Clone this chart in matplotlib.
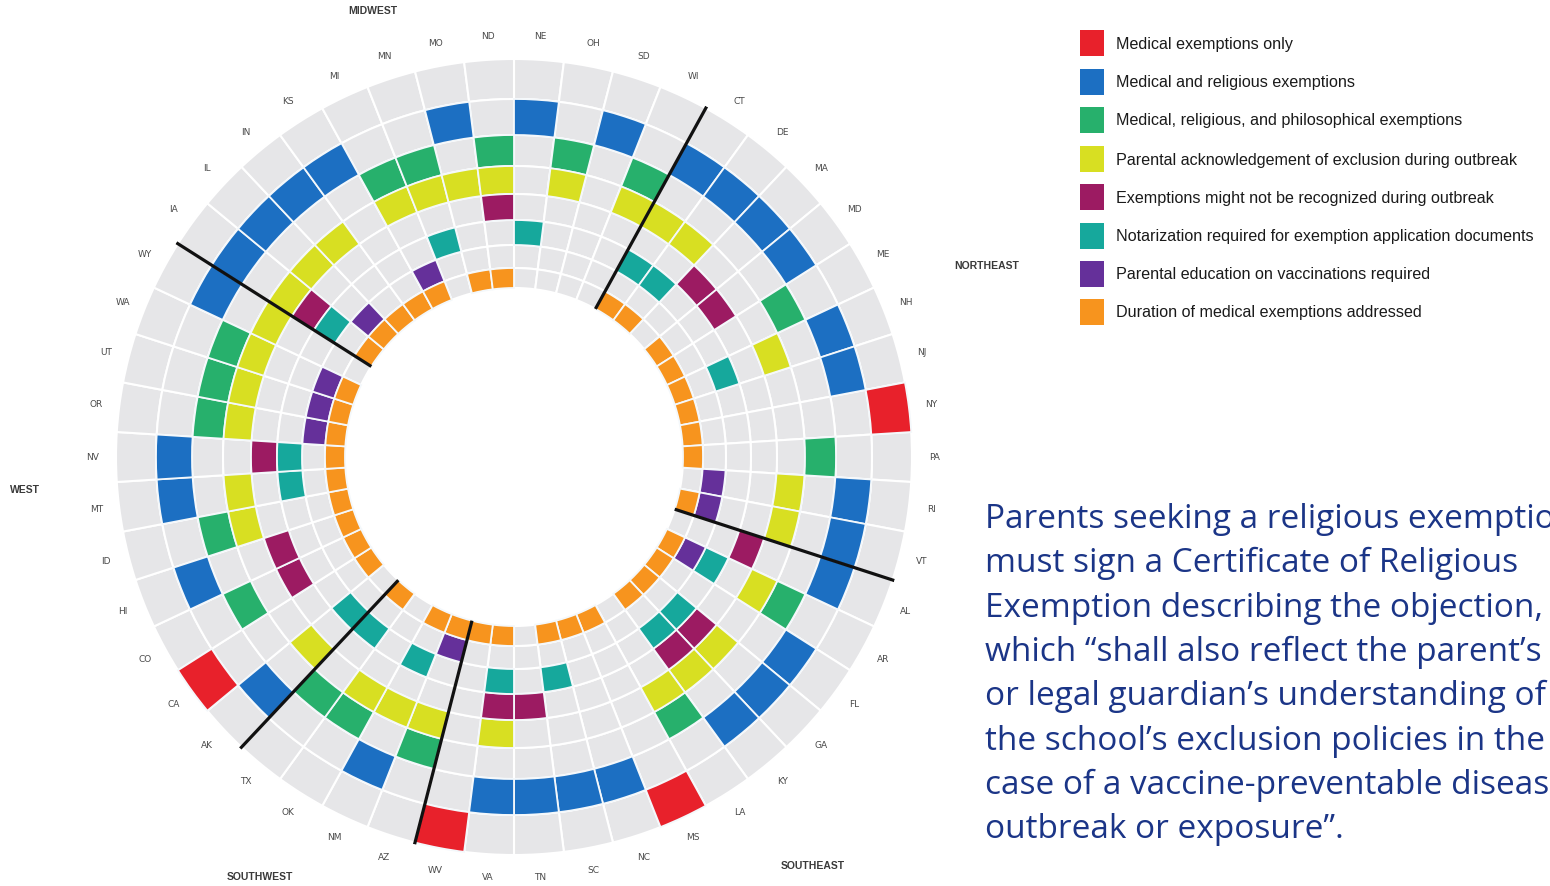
import matplotlib
matplotlib.use("Agg")
import matplotlib.pyplot as plt
import numpy as np
from matplotlib.patches import Rectangle

# ---------------- data ----------------
states = ["NE", "OH", "SD", "WI",
          "CT", "DE", "MA", "MD", "ME", "NH", "NJ", "NY", "PA", "RI", "VT",
          "AL", "AR", "FL", "GA", "KY", "LA", "MS", "NC", "SC", "TN", "VA", "WV",
          "AZ", "NM", "OK", "TX",
          "AK", "CA", "CO", "HI", "ID", "MT", "NV", "OR", "UT", "WA", "WY",
          "IA", "IL", "IN", "KS", "MI", "MN", "MO", "ND"]

region_names = ["NORTHEAST", "SOUTHEAST", "SOUTHWEST", "WEST", "MIDWEST"]
region_first_state = ["CT", "AL", "AZ", "AK", "IA"]

categories = ["Medical exemptions only",
              "Medical and religious exemptions",
              "Medical, religious, and philosophical exemptions",
              "Parental acknowledgement of exclusion during outbreak",
              "Exemptions might not be recognized during outbreak",
              "Notarization required for exemption application documents",
              "Parental education on vaccinations required",
              "Duration of medical exemptions addressed"]

medical_only = ["NY", "MS", "WV", "CA"]
medical_religious = ["NE", "SD", "CT", "DE", "MA", "MD", "NH", "NJ", "RI", "VT",
                     "AL", "FL", "GA", "KY", "NC", "SC", "TN", "VA", "NM", "AK",
                     "HI", "MT", "NV", "WY", "IA", "IL", "IN", "KS", "MO"]
medical_religious_philosophical = ["OH", "WI", "ME", "PA", "AR", "LA", "AZ", "OK", "TX",
                                   "CO", "ID", "OR", "UT", "WA", "MI", "MN", "ND"]
acknowledgement_exclusion = ["OH", "WI", "CT", "DE", "NH", "RI", "VT", "AR", "GA", "KY",
                             "LA", "VA", "AZ", "NM", "OK", "AK", "ID", "MT", "OR", "UT",
                             "WA", "WY", "IA", "IL", "IN", "MI", "MN", "MO", "ND"]
not_recognized_outbreak = ["MA", "MD", "AL", "GA", "KY", "TN", "VA", "CO", "HI", "NV",
                           "IA", "ND"]
notarization_required = ["NE", "CT", "DE", "NH", "AR", "GA", "KY", "SC", "VA", "NM",
                         "TX", "AK", "MT", "NV", "IA", "MN"]
education_required = ["RI", "VT", "AR", "AZ", "OR", "UT", "WA", "IL", "MI"]
duration_addressed = ["CT", "DE", "MD", "ME", "NH", "NJ", "NY", "PA", "VT", "AR", "FL",
                      "GA", "KY", "MS", "NC", "SC", "VA", "WV", "AZ", "NM", "TX", "CA",
                      "CO", "HI", "ID", "MT", "NV", "OR", "UT", "WA", "IA", "IL", "IN",
                      "KS", "MI", "MO", "ND"]

ring_members = [medical_only, medical_religious, medical_religious_philosophical,
                acknowledgement_exclusion, not_recognized_outbreak,
                notarization_required, education_required, duration_addressed]

# ---------------- style ----------------
colors = ["#e8212b", "#1c6fc2", "#27b06c", "#d8df22",
          "#9c1b62", "#16a89c", "#65309a", "#f7941e"]
grey = "#e6e6e8"
# ring boundaries (outer -> inner), in axis radius units
ring_edges = [398, 358, 322, 291, 263, 237, 212, 189, 169]

W, H = 1550, 886
fig = plt.figure(figsize=(W / 100, H / 100), dpi=100)
cx, cy, R = 514, 457, 400
ax = fig.add_axes([(cx - R) / W, (H - cy - R) / H, 2 * R / W, 2 * R / H],
                  projection="polar")
ax.set_theta_zero_location("N")
ax.set_theta_direction(-1)
ax.set_ylim(0, R)
ax.set_axis_off()

n = len(states)
dth = 2 * np.pi / n
theta = (np.arange(n) + 0.5) * dth

# grey background cells
for k in range(8):
    r_out, r_in = ring_edges[k], ring_edges[k + 1]
    ax.bar(theta, r_out - r_in, width=dth, bottom=r_in, color=grey,
           edgecolor="white", linewidth=1.5, zorder=1)

# coloured cells
for k, members in enumerate(ring_members):
    r_out, r_in = ring_edges[k], ring_edges[k + 1]
    idx = [states.index(s) for s in members]
    ax.bar(theta[idx], r_out - r_in, width=dth, bottom=r_in, color=colors[k],
           edgecolor="#f4f8fb", linewidth=1.3, zorder=2)

# region separators
for s in region_first_state:
    t = states.index(s) * dth
    ax.plot([t, t], [ring_edges[-1], ring_edges[0] + 2], color="#111111",
            linewidth=2.3, zorder=3, solid_capstyle="butt")

# state labels
for i, s in enumerate(states):
    ax.text(theta[i], 421, s, ha="center", va="center", fontsize=6.5,
            color="#4a4a4a", family="DejaVu Sans")

# region labels
region_pos = {"MIDWEST": (373, 11), "NORTHEAST": (987, 266), "SOUTHEAST": (813, 866),
              "SOUTHWEST": (260, 877), "WEST": (25, 490)}
for name in region_names:
    x, y = region_pos[name]
    fig.text(x / W, 1 - y / H, name, ha="center", va="center", fontsize=7.5,
             fontweight="bold", color="#3a3a3a", family="Liberation Sans")

# legend
leg_y = [43, 82, 120, 159, 197, 236, 274, 312]
leg_texts = []
for c, lab, y in zip(colors, categories, leg_y):
    fig.patches.append(Rectangle((1080 / W, 1 - (y + 13) / H), 24 / W, 26 / H,
                                 transform=fig.transFigure, facecolor=c,
                                 edgecolor="none"))
    leg_texts.append(fig.text(1116 / W, 1 - (y + 1) / H, lab, ha="left", va="center",
                              fontsize=11, color="#1a1a1a", family="Liberation Sans"))

# quotation text
quote_lines = ["Parents seeking a religious exemption",
               "must sign a Certificate of Religious",
               "Exemption describing the objection,",
               "which \u201cshall also reflect the parent\u2019s",
               "or legal guardian\u2019s understanding of",
               "the school\u2019s exclusion policies in the",
               "case of a vaccine-preventable disease",
               "outbreak or exposure\u201d."]
base0, step = 528, 44.3
qtexts = []
for j, line in enumerate(quote_lines):
    t = fig.text(985 / W, 1 - (base0 + j * step) / H, line, ha="left",
                 va="baseline", fontsize=22, color="#1b3587", family="Open Sans")
    qtexts.append(t)

# fit font sizes to the widths seen in the reference
fig.canvas.draw()
rend = fig.canvas.get_renderer()
wq = qtexts[1].get_window_extent(rend).width
fs = 22 * 533 / wq
for t in qtexts:
    t.set_fontsize(fs)
wl = leg_texts[5].get_window_extent(rend).width
fl = 11 * 416 / wl
for t in leg_texts:
    t.set_fontsize(fl)

fig.savefig("out.png", dpi=100, facecolor="white")
